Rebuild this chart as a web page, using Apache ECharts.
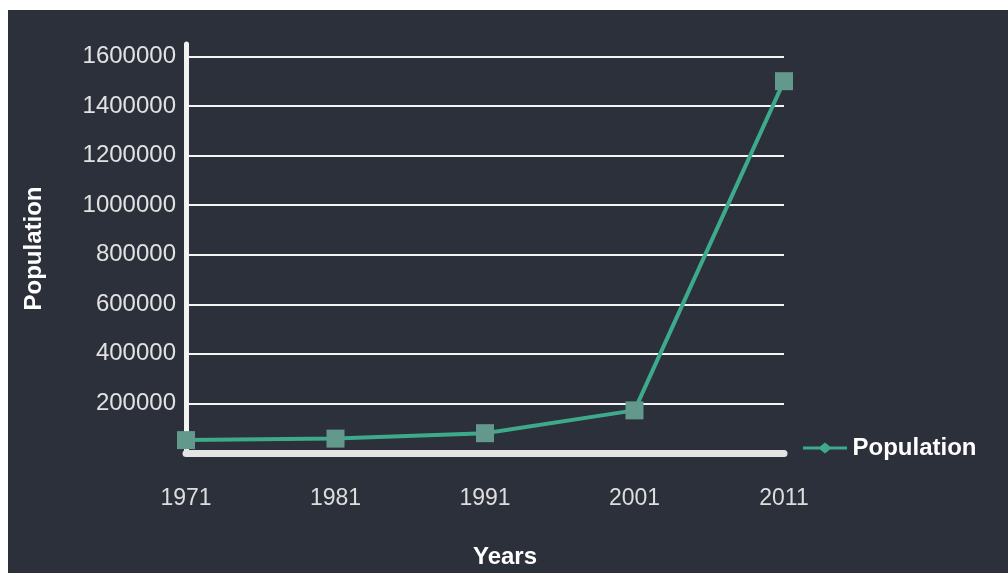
<!DOCTYPE html>
<html>
<head>
<meta charset="utf-8">
<script src="https://cdn.jsdelivr.net/npm/echarts@6/dist/echarts.min.js"></script>
<style>
  html, body { margin: 0; padding: 0; background: #ffffff; width: 1008px; height: 573px; overflow: hidden; }
  #chart { position: absolute; left: 8px; top: 10px; width: 1000px; height: 563px; background: #2b303a; }
</style>
</head>
<body>
<div id="chart"></div>
<script>
// Census years and population counts
const years = ['1971', '1981', '1991', '2001', '2011'];
const population = [52000, 58000, 80000, 172000, 1500000];
const seriesName = 'Population';
const xAxisTitle = 'Years';
const yAxisTitle = 'Population';

const FONT = '"Liberation Sans", Arial, Helvetica, sans-serif';

const chart = echarts.init(document.getElementById('chart'), null, { renderer: 'canvas' });

chart.setOption({
  backgroundColor: '#2b303a',
  animation: false,
  grid: { left: 178, right: 224, top: 34, bottom: 120, containLabel: false, outerBoundsMode: 'none' },
  legend: {
    data: [{ name: seriesName, icon: 'path://M0,4 L17,4 L22,0 L27,4 L44,4 L44,7 L27,7 L22,11 L17,7 L0,7 Z' }],
    left: 790,
    top: 421,
    itemWidth: 45,
    itemHeight: 11,
    itemGap: 10,
    textStyle: { color: '#ffffff', fontSize: 24, fontWeight: 'bold', fontFamily: FONT },
    itemStyle: { color: '#3eaa8c' }
  },
  xAxis: {
    type: 'category',
    data: years,
    boundaryGap: false,
    name: xAxisTitle,
    nameLocation: 'middle',
    nameGap: 92,
    nameTextStyle: {
      color: '#ffffff', fontSize: 24, fontWeight: 'bold', fontFamily: FONT,
      padding: [0, 0, 0, 40]
    },
    axisLine: { show: true, lineStyle: { color: '#e4e4e4', width: 7 } },
    axisTick: { show: false },
    axisLabel: { color: '#dedede', fontSize: 23, fontFamily: FONT, margin: 34 },
    splitLine: { show: false }
  },
  yAxis: {
    type: 'value',
    min: 0,
    max: 1650000,
    interval: 200000,
    name: yAxisTitle,
    nameLocation: 'middle',
    nameGap: 140,
    nameRotate: 90,
    nameTextStyle: { color: '#ffffff', fontSize: 24, fontWeight: 'bold', fontFamily: FONT },
    axisLine: { show: true, lineStyle: { color: '#f2f2f2', width: 5 } },
    axisTick: { show: false },
    axisLabel: {
      color: '#e2e2e2', fontSize: 24, fontFamily: FONT, margin: 10,
      showMaxLabel: false,
      formatter: v => (v > 0 && v % 200000 === 0) ? String(v) : ''
    },
    splitLine: {
      show: true,
      showMinLine: false,
      showMaxLine: false,
      lineStyle: { color: '#f4f4f4', width: 2 }
    }
  },
  series: [{
    name: seriesName,
    type: 'line',
    data: population,
    symbol: 'rect',
    symbolSize: 18,
    lineStyle: { color: '#3eaa8c', width: 4 },
    itemStyle: { color: '#63998d' },
    z: 3
  }]
});
</script>
</body>
</html>
